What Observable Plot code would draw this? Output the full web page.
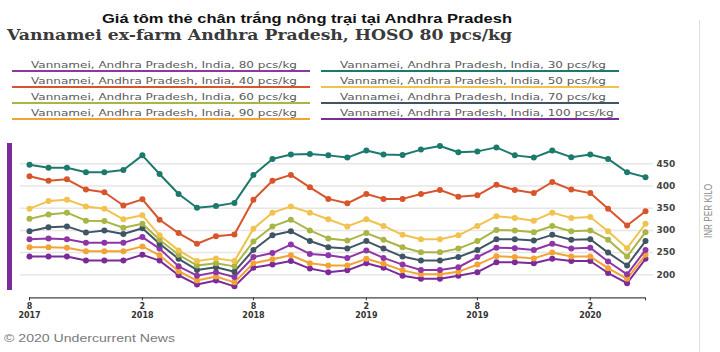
<!DOCTYPE html>
<html>
<head>
<meta charset="utf-8">
<script src="https://cdn.jsdelivr.net/npm/d3@7"></script>
<script src="https://cdn.jsdelivr.net/npm/@observablehq/plot@0.6"></script>
<style>
  html, body { margin: 0; padding: 0; background: #fff; }
  #page { position: relative; width: 720px; height: 352px; overflow: hidden; background: #fff; }
  .t { position: absolute; white-space: nowrap; transform-origin: 0 50%; }
  #title1 { left: 102px; top: 12.5px; font: bold 13px/12px "Liberation Sans", Arial, sans-serif; color: #111; }
  #title2 { left: 7px; top: 28.8px; font: bold 15px/12px "DejaVu Serif", Georgia, serif; color: #3a3a3a; }
  .leg { position: absolute; width: 279px; height: 10px; padding-left: 19px; border-bottom: 2px solid #999;
         font: 9.5px/10px "DejaVu Sans", sans-serif; color: #5a5a5a; white-space: nowrap; }
  .leg span { display: inline-block; transform-origin: 0 50%; }
  #caption { left: 4px; top: 332px; font: 11.5px/12px "Liberation Sans", Arial, sans-serif; color: #7a7a7a; }
  #bar { position: absolute; left: 7px; top: 143px; width: 4.5px; height: 147px; background: #7b2a9a; }
  #border { position: absolute; left: 698.5px; top: 20px; width: 1.8px; height: 332px; background: #e0e0e0; }
  #chart { position: absolute; left: 0; top: 130px; }
  #ylabel { position: absolute; left: 708px; top: 211px; transform: translate(-50%, -50%) rotate(-90deg) scaleX(0.78);
            font: 10.5px/11px "Liberation Sans", Arial, sans-serif; color: #8a8a8a; white-space: nowrap; }
</style>
</head>
<body>
<div id="page">
  <div class="t" id="title1">Giá tôm thẻ chân trắng nông trại tại Andhra Pradesh</div>
  <div class="t" id="title2">Vannamei ex-farm Andhra Pradesh, HOSO 80 pcs/kg</div>
  <div id="legend"></div>
  <div id="bar"></div>
  <div id="border"></div>
  <div id="chart"></div>
  <div id="ylabel">INR PER KILO</div>
  <div class="t" id="caption">© 2020 Undercurrent News</div>
</div>
<script>
// ---------- data ----------
const months = [
  "2017-08","2017-09","2017-10","2017-11","2017-12",
  "2018-01","2018-02","2018-03","2018-04","2018-05","2018-06","2018-07","2018-08","2018-09","2018-10","2018-11","2018-12",
  "2019-01","2019-02","2019-03","2019-04","2019-05","2019-06","2019-07","2019-08","2019-09","2019-10","2019-11","2019-12",
  "2020-01","2020-02","2020-03","2020-04","2020-05"
];
const s30  = [448,441,441,431,431,436,469,427,382,351,355,362,425,461,471,472,469,464,480,471,470,482,490,476,478,487,469,464,480,465,471,461,431,420];
const s40  = [422,412,415,392,386,356,370,324,294,270,287,291,369,412,425,397,371,361,382,371,371,382,391,376,379,403,391,384,409,392,384,349,311,343];
const s50  = [349,366,369,354,349,325,334,289,255,231,237,231,304,340,354,340,325,309,325,310,290,280,280,289,310,332,328,322,340,328,330,298,260,315];
const s60  = [326,336,340,322,321,306,315,279,245,221,226,219,275,309,324,300,282,277,294,279,262,251,251,259,276,301,300,296,310,298,300,279,241,296];
const s70  = [298,307,309,295,300,292,305,270,236,211,217,207,256,289,298,276,262,259,276,259,241,232,232,240,256,280,280,277,290,279,280,250,221,276];
const s80  = [280,282,280,272,272,272,285,259,219,198,206,195,240,249,268,247,244,238,255,238,223,211,211,217,240,261,260,256,270,259,261,230,201,256];
const s90  = [262,262,261,253,253,253,264,244,208,187,196,183,226,235,244,226,221,221,236,225,210,201,201,207,223,242,240,237,250,241,241,215,191,245];
const s100 = [241,241,241,232,232,232,245,232,199,178,187,174,216,223,231,214,206,210,226,216,198,191,191,198,206,228,228,226,236,231,231,204,181,236];

const seriesNames = [
  "Vannamei, Andhra Pradesh, India, 30 pcs/kg",
  "Vannamei, Andhra Pradesh, India, 40 pcs/kg",
  "Vannamei, Andhra Pradesh, India, 50 pcs/kg",
  "Vannamei, Andhra Pradesh, India, 60 pcs/kg",
  "Vannamei, Andhra Pradesh, India, 70 pcs/kg",
  "Vannamei, Andhra Pradesh, India, 80 pcs/kg",
  "Vannamei, Andhra Pradesh, India, 90 pcs/kg",
  "Vannamei, Andhra Pradesh, India, 100 pcs/kg"
];
const seriesValues = [s30, s40, s50, s60, s70, s80, s90, s100];
const seriesColors = ["#1c7a6d", "#d8552b", "#f1c24d", "#a9b544", "#3f5563", "#8e36a8", "#f2a334", "#7b2a9a"];
// legend order (column 1 then column 2)
const legendOrder = [5, 1, 3, 6, 0, 2, 4, 7];

const yTicks = [200, 250, 300, 350, 400, 450];
const xTickMonths = ["2017-08", "2018-02", "2018-08", "2019-02", "2019-08", "2020-02", "2020-05"];
const xTickLabeled = ["2017-08", "2018-02", "2018-08", "2019-02", "2019-08", "2020-02"];

// ---------- build ----------
const parse = m => new Date(m + "-01T00:00:00Z");
const dates = months.map(parse);
const rows = [];
seriesValues.forEach((vals, si) => vals.forEach((v, i) => rows.push({date: dates[i], value: v, series: seriesNames[si]})));

const yLo = 148.2, yHi = 502.5;
const first = dates[0], last = dates[dates.length - 1];

const seriesMarks = [];
for (let si = seriesNames.length - 1; si >= 0; si--) {
  const d = rows.filter(r => r.series === seriesNames[si]);
  seriesMarks.push(Plot.line(d, {x: "date", y: "value", stroke: "series", strokeWidth: 2, curve: "linear"}));
  seriesMarks.push(Plot.dot(d, {x: "date", y: "value", fill: "series", r: 3, stroke: "none"}));
}

const chart = Plot.plot({
  width: 720,
  height: 200,
  marginTop: 10,
  marginBottom: 32.7,
  marginLeft: 20,
  marginRight: 67,
  style: {background: "transparent", overflow: "visible"},
  x: {type: "utc", domain: [first, last], insetLeft: 9, insetRight: 8},
  y: {domain: [yLo, yHi]},
  color: {domain: seriesNames, range: seriesColors},
  marks: [
    Plot.ruleY(yTicks, {stroke: "#e6e6e6", strokeWidth: 1.5}),
    Plot.axisY(yTicks, {anchor: "right", tickSize: 0, tickPadding: 3, fontSize: 9, fontWeight: "bold",
      fontFamily: "DejaVu Sans", color: "#444", label: null}),
    Plot.ruleY([yLo], {x1: () => first, x2: () => last, stroke: "#444", strokeWidth: 1.2}),
    Plot.axisX(xTickMonths.map(parse), {anchor: "bottom", tickSize: 3, tickPadding: 2, fontSize: 8, fontWeight: "bold",
      fontFamily: "DejaVu Sans", color: "#333", label: null, lineHeight: 1.1,
      tickFormat: d => {
        const key = d3.utcFormat("%Y-%m")(d);
        if (!xTickLabeled.includes(key)) return "";
        return `${d.getUTCMonth() + 1}\n${d.getUTCFullYear()}`;
      }}),
    ...seriesMarks
  ]
});
document.getElementById("chart").appendChild(chart);

// ---------- legend ----------
const legend = document.getElementById("legend");
const colLeft = [11.7, 321];
const rowUnderline = [69.7, 85.9, 102.1, 118.3];
legendOrder.forEach((si, k) => {
  const col = Math.floor(k / 4), row = k % 4;
  const div = document.createElement("div");
  div.className = "leg";
  div.style.left = colLeft[col] + "px";
  div.style.top = (rowUnderline[row] - 10) + "px";
  div.style.borderBottomColor = seriesColors[si];
  const span = document.createElement("span");
  span.textContent = seriesNames[si];
  div.appendChild(span);
  legend.appendChild(div);
});

// ---------- text width fitting (horizontal stretch like the reference) ----------
function fit(el, target) {
  const w = el.getBoundingClientRect().width;
  const k = target / w;
  el.style.transform = `scaleX(${k})`;
  return k;
}
fit(document.getElementById("title1"), 410);
fit(document.getElementById("title2"), 505);
fit(document.getElementById("caption"), 171);
const spans = legend.querySelectorAll("span");
const k = fit(spans[0], 266);
spans.forEach(s => s.style.transform = `scaleX(${k})`);
</script>
</body>
</html>
